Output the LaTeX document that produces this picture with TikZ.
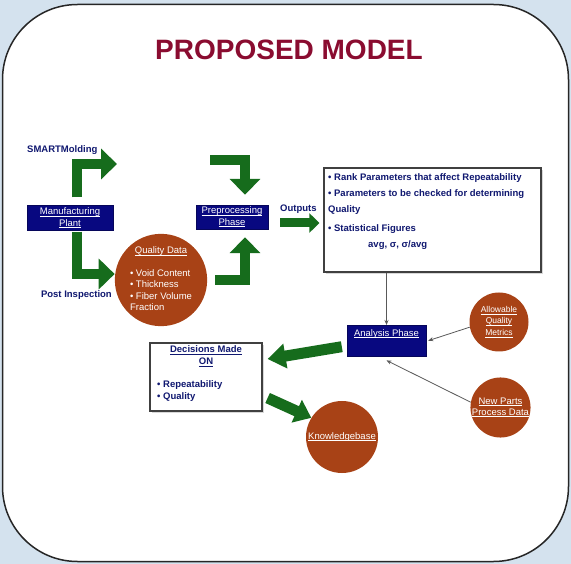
\documentclass[tikz,border=0pt]{standalone}
\usepackage{fontspec}
\setmainfont{Liberation Sans}
\usetikzlibrary{arrows.meta,shadows}
\definecolor{navybox}{RGB}{8,8,128}
\definecolor{navytxt}{RGB}{16,24,112}
\definecolor{garr}{RGB}{22,108,28}
\definecolor{ballbrown}{RGB}{168,66,22}
\definecolor{titlered}{RGB}{138,12,48}
\definecolor{bgblue}{RGB}{212,226,238}
\newcommand{\ulx}[1]{\underline{\vphantom{A}\smash{#1}}}
\begin{document}
\begin{tikzpicture}[x=1pt,y=-1pt,
  navynode/.style={fill=navybox, draw=navybox!70!black, text=white, font=\fontsize{9.5}{11.5}\selectfont, align=center, inner sep=0pt},
  ball/.style={circle, fill=ballbrown, text=white, font=\fontsize{9.5}{11.5}\selectfont, align=center, inner sep=0pt},
  garrow/.style={draw=garr, line width=10pt, line join=miter, -{Triangle[width=30pt,length=16pt]}},
  thinarrow/.style={draw=black!65, line width=0.8pt, -{Stealth[length=5pt,width=4pt]}},
  navylbl/.style={text=navytxt, font=\bfseries\fontsize{9.5}{11}\selectfont, inner sep=0pt},
  whitebox/.style={draw=black!75, fill=white, line width=1.2pt, drop shadow={shadow xshift=2pt, shadow yshift=-2pt, opacity=0.3}},
]
\useasboundingbox (0,0) rectangle (571,564);
\fill[bgblue] (0,0) rectangle (571,564);
\draw[fill=white, draw=black!85, line width=1.5pt, rounded corners=75pt] (2.5,4.5) rectangle (568.5,561.5);

\node[text=titlered, font=\bfseries\fontsize{28}{30}\selectfont] (title) at (289,50) {PROPOSED MODEL};

% boxes
\node[navynode, minimum width=86pt, minimum height=25pt] (mfg) at (70,218) {\ulx{Manufacturing}\\\ulx{Plant}};
\node[navynode, minimum width=72pt, minimum height=24pt] (pre) at (232,217) {\ulx{Preprocessing}\\\ulx{Phase}};
\node[navynode, minimum width=79pt, text height=11pt, text depth=20pt, anchor=north] (ana) at (386.5,325) {\ulx{Analysis Phase}};

\node[whitebox, minimum width=217pt, minimum height=104pt] (outbox) at (432.5,220) {};
\node[navylbl, anchor=north west, align=left, font=\bfseries\fontsize{9.5}{16}\selectfont] (outtxt) at (328,173)
  {\textbullet{} Rank Parameters that affect Repeatability\\
   \textbullet{} Parameters to be checked for determining\\
   Quality\\[3pt]
   \textbullet{} Statistical Figures\\
   \hspace*{40pt}avg, σ, σ/avg};

\node[whitebox, minimum width=112pt, minimum height=68pt] (dec) at (206,377) {};
\node[navylbl, anchor=north, align=center, font=\bfseries\fontsize{9.5}{12}\selectfont] (dectitle) at (206,346) {\ulx{Decisions Made}\\\ulx{ON}};
\node[navylbl, anchor=north west, align=left, font=\bfseries\fontsize{9.5}{12}\selectfont] (decbul) at (157,380) {\textbullet{} Repeatability\\\textbullet{} Quality};

% circles
\node[ball, minimum size=89pt] (qd) at (161,280) {\begin{tabular}{@{}l@{}}\multicolumn{1}{@{}c@{}}{\ulx{Quality Data}}\\[11pt]
  \textbullet{} Void Content\\ \textbullet{} Thickness\\ \textbullet{} Fiber Volume\\ Fraction\end{tabular}};
\node[ball, minimum size=72pt] (kb) at (342,437) {\ulx{Knowledgebase}};
\node[ball, minimum size=59pt, font=\fontsize{8.5}{11.5}\selectfont] (aqm) at (499,322) {\ulx{Allowable}\\\ulx{Quality}\\\ulx{Metrics}};
\node[ball, minimum size=60pt, font=\fontsize{9.5}{11}\selectfont] (npd) at (500.5,407.5) {\ulx{New Parts}\\\ulx{Process Data}};

% labels
\node[navylbl, anchor=base west] (smart) at (27,153) {SMARTMolding};
\node[navylbl, anchor=base east] (post) at (112,298) {Post Inspection};
\node[navylbl, anchor=base west] (outs) at (280,212) {Outputs};

% green arrows
\coordinate (smartend) at (117,164);
\coordinate (prein) at (210,160);
\draw[garrow] ([xshift=7pt,yshift=8pt]mfg.north) |- (smartend);
\draw[garrow] (prein) -| ([xshift=13pt,yshift=10pt]pre.north);
\draw[garrow] ([xshift=7pt,yshift=-1pt]mfg.south) |- ([yshift=6pt]qd.west);
\draw[garrow] ([xshift=8pt]qd.east) -| ([xshift=13pt,yshift=-8pt]pre.south);
\draw[garrow, line width=9pt, -{Triangle[width=19pt,length=10pt]}] ([xshift=12pt,yshift=-6pt]pre.east) -- ([xshift=-4pt,yshift=-3pt]outbox.west);
\draw[garrow, line width=11pt, -{Triangle[width=24pt,length=18pt]}] ([xshift=-5pt,yshift=-6pt]ana.west) -- ([xshift=5pt,yshift=18pt]dec.east);
\draw[garrow, line width=11pt, -{Triangle[width=24pt,length=16pt]}] ([xshift=5pt,yshift=-21pt]dec.east) -- (kb.148);

% thin arrows
\draw[thinarrow] (ana.north |- outbox.south) -- (ana.north);
\draw[thinarrow] (aqm.190) -- ([xshift=2pt]ana.east);
\draw[thinarrow] (npd.170) -- ([yshift=-4pt]ana.south);
\end{tikzpicture}
\end{document}
